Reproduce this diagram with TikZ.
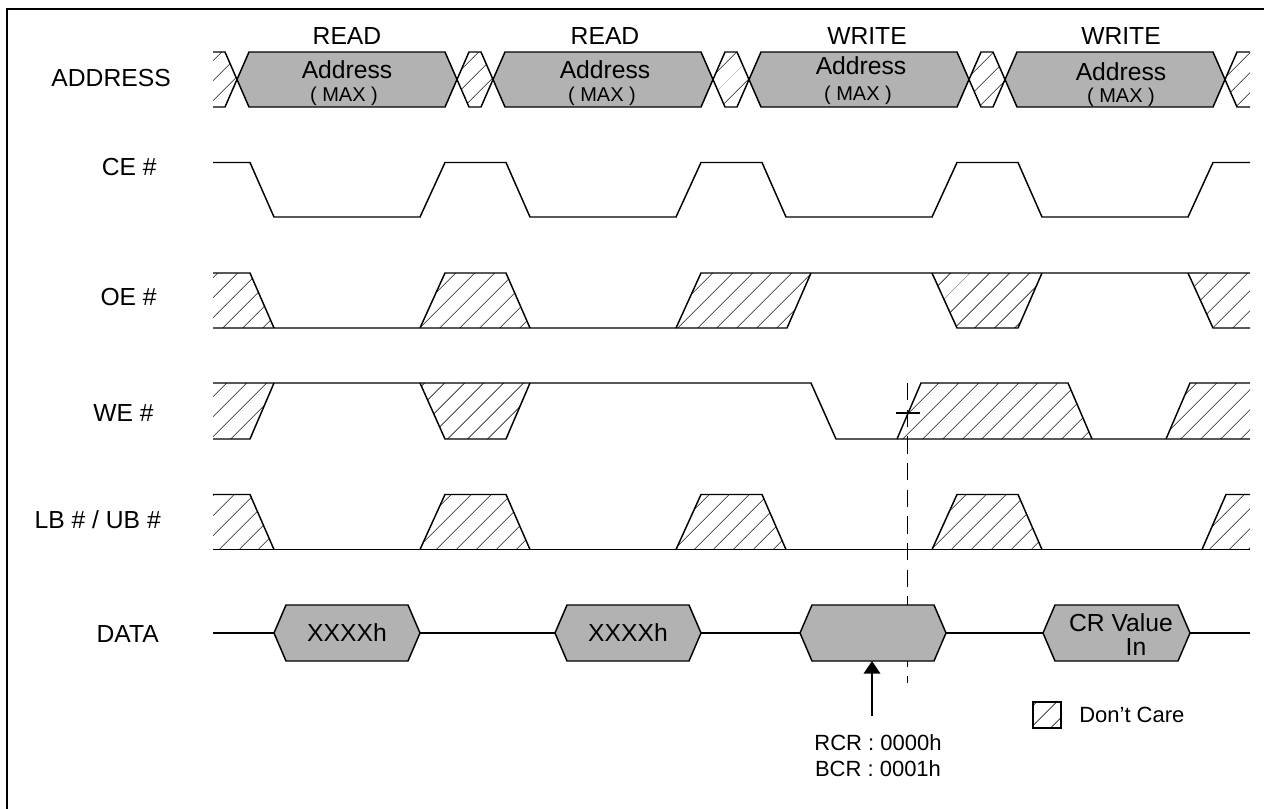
\documentclass[tikz,border=0pt]{standalone}
\usepackage{fontspec}
\setmainfont{Liberation Sans}
\usetikzlibrary{patterns.meta,arrows.meta}
\tikzset{
  wave/.style={line width=1.1pt, line join=miter},
  busbox/.style={wave, fill=black!30},
  dc/.style={pattern={Lines[angle=45,distance=10.5pt,line width=0.7pt]}, pattern color=black!65},
  lbl/.style={inner sep=0pt, anchor=east, font=\fontsize{18.5pt}{20pt}\selectfont},
  big/.style={inner sep=0pt, font=\fontsize{18.5pt}{20pt}\selectfont},
  small/.style={inner sep=0pt, font=\fontsize{15pt}{16pt}\selectfont},
  note/.style={inner sep=0pt, font=\fontsize{16.5pt}{18pt}\selectfont},
  guide/.style={line width=1.2pt, dash pattern=on 13pt off 7pt},
}
\begin{document}
\begin{tikzpicture}[x=0.75pt,y=-0.75pt]
\useasboundingbox (0,0) rectangle (1264,808);
% frame
\draw[line width=1.5pt] (7,830) -- (7,9) -- (1290,9);

% signal labels
\node[lbl] (lAddr) at (171,78) {ADDRESS};
\node[lbl] (lCE) at (157,167) {CE \#};
\node[lbl] (lOE) at (157,297) {OE \#};
\node[lbl] (lWE) at (154,413) {WE \#};
\node[lbl] (lLB) at (161,520) {LB \# / UB \#};
\node[lbl] (lData) at (159,634) {DATA};

% cycle labels
\node[big] (c1) at (347,36) {READ};
\node[big] (c2) at (605,36) {READ};
\node[big] (c3) at (867,36) {WRITE};
\node[big] (c4) at (1121,36) {WRITE};

% ---------- ADDRESS ----------
\path[dc] (213,52)--(225,52)--(237,79.5)--(225,107)--(213,107)--cycle;
\draw[wave] (213,52)--(225,52)--(237,79.5)--(225,107)--(213,107);
\foreach \R/\N in {457/493,713/749,969/1005}{
  \draw[wave,dc] (\R,79.5)--(\R+12,52)--(\N-12,52)--(\N,79.5)--(\N-12,107)--(\R+12,107)--cycle;
}
\path[dc] (1225,79.5)--(1237,52)--(1250,52)--(1250,107)--(1237,107)--cycle;
\draw[wave] (1250,52)--(1237,52)--(1225,79.5)--(1237,107)--(1250,107);
\foreach \L in {237,493,749,1005}{
  \draw[busbox] (\L,79.5)--(\L+12,52)--(\L+208,52)--(\L+220,79.5)--(\L+208,107)--(\L+12,107)--cycle;
}
\node[big] (a1) at (347,70) {Address};
\node[small] (m1) at (344,96) {( MAX )};
\node[big] (a2) at (605,70) {Address};
\node[small] (m2) at (602,96) {( MAX )};
\node[big] (a3) at (861,66) {Address};
\node[small] (m3) at (858,95) {( MAX )};
\node[big] (a4) at (1121,72) {Address};
\node[small] (m4) at (1121,97) {( MAX )};

% ---------- CE# ----------
\draw[wave] (213,162.5)--(250,162.5)--(274,217)--(420,217)--(445,162.5)
  --(506,162.5)--(530,217)--(676,217)--(701,162.5)
  --(762,162.5)--(786,217)--(932,217)--(957,162.5)
  --(1018,162.5)--(1042,217)--(1188,217)--(1213,162.5)--(1250,162.5);

% ---------- OE# ----------
\path[dc] (213,273)--(250,273)--(274,328)--(213,328)--cycle;
\path[dc] (420,328)--(445,273)--(506,273)--(530,328)--cycle;
\path[dc] (676,328)--(701,273)--(811,273)--(787,328)--cycle;
\path[dc] (932,273)--(957,328)--(1018,328)--(1042,273)--cycle;
\path[dc] (1188,273)--(1213,328)--(1250,328)--(1250,273)--cycle;
\draw[wave] (213,273)--(250,273)--(274,328);
\draw[wave] (213,328)--(787,328)--(811,273);
\draw[wave] (420,328)--(445,273)--(506,273)--(530,328);
\draw[wave] (676,328)--(701,273)--(1250,273);
\draw[wave] (932,273)--(957,328)--(1018,328)--(1042,273);
\draw[wave] (1188,273)--(1213,328)--(1250,328);

% ---------- WE# ----------
\path[dc] (213,383)--(274,383)--(250,439)--(213,439)--cycle;
\path[dc] (420,383)--(445,439)--(506,439)--(530,383)--cycle;
\path[dc] (897,439)--(921,383)--(1068,383)--(1092,439)--cycle;
\path[dc] (1166,439)--(1190,383)--(1250,383)--(1250,439)--cycle;
\draw[wave] (213,383)--(811,383)--(836,439)--(1250,439);
\draw[wave] (213,439)--(250,439)--(274,383);
\draw[wave] (420,383)--(445,439)--(506,439)--(530,383);
\draw[wave] (897,439)--(921,383)--(1068,383)--(1092,439);
\draw[wave] (1166,439)--(1190,383)--(1250,383);

% ---------- LB#/UB# ----------
\path[dc] (213,494.5)--(250,494.5)--(274,549.5)--(213,549.5)--cycle;
\foreach \a/\b/\c/\d in {420/445/506/530,676/701/762/786,932/957/1018/1042}{
  \path[dc] (\a,549.5)--(\b,494.5)--(\c,494.5)--(\d,549.5)--cycle;
  \draw[wave] (\a,549.5)--(\b,494.5)--(\c,494.5)--(\d,549.5);
}
\path[dc] (1202,549.5)--(1226,494.5)--(1250,494.5)--(1250,549.5)--cycle;
\draw[wave] (213,549.5)--(1250,549.5);
\draw[wave] (213,494.5)--(250,494.5)--(274,549.5);
\draw[wave] (1202,549.5)--(1226,494.5)--(1250,494.5);

% ---------- timing guide ----------
\coordinate (gtop) at (907.5,383);
\coordinate (gbot) at (907.5,683);
\draw[guide] (gtop) -- (gbot);
\draw[line width=1.3pt] (896,413) -- (920,413);

% ---------- DATA ----------
\draw[wave] (213,633)--(1250,633);
\foreach \s/\e in {274/420,555/701,800/946,1043/1190}{
  \draw[busbox] (\s,633)--(\s+12,605)--(\e-12,605)--(\e,633)--(\e-12,661)--(\s+12,661)--cycle;
}
\node[big] (d1) at (347,633) {XXXXh};
\node[big] (d2) at (628,633) {XXXXh};
\node[big] (d4a) at (1121,623) {CR Value};
\node[big] (d4b) at (1136,647) {In};

% ---------- annotation ----------
\coordinate (arrtail) at (872,716);
\coordinate (arrhead) at (872,661);
\draw[wave,-{Triangle[width=12.5pt,length=9.5pt]}] (arrtail) -- (arrhead);
\node[note] (rcr) at (878,743) {RCR : 0000h};
\node[note] (bcr) at (878,769) {BCR : 0001h};

% ---------- legend ----------
\draw[line width=0.9pt,dc] (1033,702) rectangle (1061,728);
\node[note, anchor=west] (dcare) at (1079,715) {Don’t Care};
\end{tikzpicture}
\end{document}
